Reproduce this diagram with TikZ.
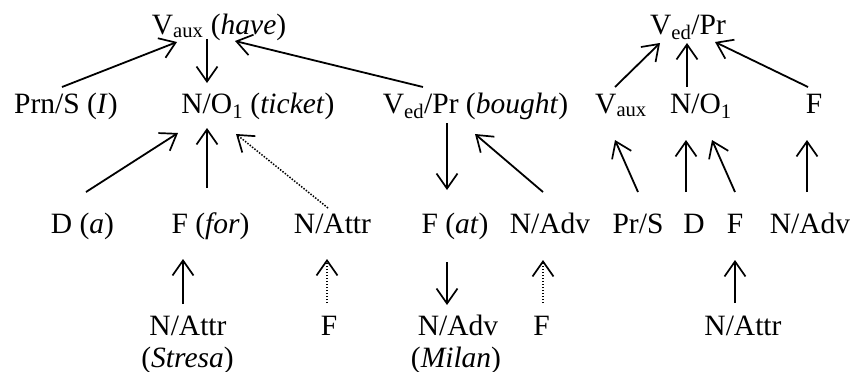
\documentclass[tikz,border=0pt]{standalone}
\usepackage{fontspec}
\setmainfont{Liberation Serif}
\usetikzlibrary{arrows.meta}
\newcommand\lowtag[1]{\textsubscript{#1}}
\tikzset{
  lbl/.style={anchor=base, inner sep=0pt, outer sep=0pt},
  arr/.style={line width=1.8pt, -{Straight Barb[length=15pt,width=21pt,line width=1.7pt]}},
  dotarr/.style={arr, line width=1.5pt, dash pattern=on 1.5pt off 1.5pt},
}
\begin{document}
\begin{tikzpicture}[x=1pt, y=-1pt, font=\fontsize{29.5}{34}\selectfont]
\useasboundingbox (0,0) rectangle (854,372);

% ---- left tree ----
\node[lbl] (have)   at (219,34)    {V\lowtag{aux} (\textit{have})};
\node[lbl] (prn)    at (66,113)    {Prn/S (\textit{I})};
\node[lbl] (ticket) at (258,113)   {N/O\lowtag{1} (\textit{ticket})};
\node[lbl] (bought) at (475.5,113) {V\lowtag{ed}/Pr (\textit{bought})};
\node[lbl] (da)     at (82.5,233)  {D (\textit{a})};
\node[lbl] (for)    at (210.5,233) {F (\textit{for})};
\node[lbl] (attr)   at (332.5,233) {N/Attr};
\node[lbl] (at)     at (455,233)   {F (\textit{at})};
\node[lbl] (adv)    at (550,233)   {N/Adv};
\node[lbl] (stresa) at (188,335)   {N/Attr};
\node[lbl] (stresaG) at (187.5,367) {(\textit{Stresa})};
\node[lbl] (fa)     at (329,335)   {F};
\node[lbl] (milan)  at (458,335)   {N/Adv};
\node[lbl] (milanG) at (456,367)   {(\textit{Milan})};
\node[lbl] (fb)     at (541.5,335) {F};

\draw[arr] ([shift={(-4,-26)}]prn.base) -- ([shift={(-42,8)}]have.base);
\draw[arr] ([shift={(-12,5)}]have.base) -- ([shift={(-51,-30)}]ticket.base);
\draw[arr] ([shift={(-52.5,-26)}]bought.base) -- ([shift={(16,7)}]have.base);
\draw[arr] ([shift={(3.5,-41)}]da.base) -- ([shift={(-80,20)}]ticket.base);
\draw[arr] ([shift={(-3.5,-45)}]for.base) -- ([shift={(-51,15)}]ticket.base);
\draw[dotarr] ([shift={(-4.5,-25)}]attr.base) -- ([shift={(-22,21)}]ticket.base);
\draw[arr] ([shift={(-5,-31)}]stresa.base) -- ([shift={(-27.5,26)}]for.base);
\draw[dotarr] ([shift={(-2,-32)}]fa.base) -- ([shift={(-5.5,26)}]attr.base);
\draw[arr] ([shift={(-28.5,10)}]bought.base) -- ([shift={(-8,-43)}]at.base);
\draw[arr] ([shift={(-7,-41)}]adv.base) -- ([shift={(-0.5,21)}]bought.base);
\draw[arr] ([shift={(-8,29)}]at.base) -- ([shift={(-11,-30)}]milan.base);
\draw[dotarr] ([shift={(1.5,-32)}]fb.base) -- ([shift={(-7,27)}]adv.base);

% ---- right tree ----
\node[lbl] (ved)   at (688,34)  {V\lowtag{ed}/Pr};
\node[lbl] (vaux)  at (621,113) {V\lowtag{aux}};
\node[lbl] (no)    at (701,113) {N/O\lowtag{1}};
\node[lbl] (f)     at (814,113) {F};
\node[lbl] (prs)   at (638,233) {Pr/S};
\node[lbl] (d)     at (694,233) {D};
\node[lbl] (fr)    at (735,233) {F};
\node[lbl] (advr)  at (810,233) {N/Adv};
\node[lbl] (attrr) at (743,335) {N/Attr};

\draw[arr] ([shift={(-6,-26)}]vaux.base) -- ([shift={(-28,9)}]ved.base);
\draw[arr] ([shift={(-14,-26)}]no.base) -- ([shift={(-1,9)}]ved.base);
\draw[arr] ([shift={(-6,-26)}]f.base) -- ([shift={(27,8)}]ved.base);
\draw[arr] ([shift={(0,-41)}]prs.base) -- ([shift={(-6,27)}]vaux.base);
\draw[arr] ([shift={(-8,-41)}]d.base) -- ([shift={(-15,27)}]no.base);
\draw[arr] ([shift={(0,-41)}]fr.base) -- ([shift={(11,27)}]no.base);
\draw[arr] ([shift={(-3,-41)}]advr.base) -- ([shift={(-7,27)}]f.base);
\draw[arr] ([shift={(-8,-32)}]attrr.base) -- ([shift={(0,27)}]fr.base);
\end{tikzpicture}
\end{document}
